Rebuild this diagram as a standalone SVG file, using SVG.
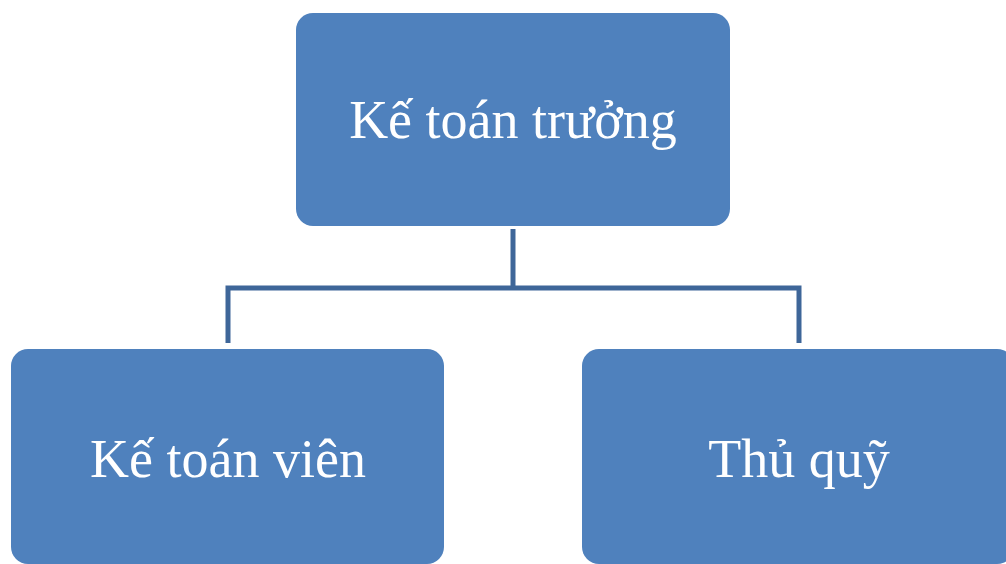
<svg xmlns="http://www.w3.org/2000/svg" width="1006" height="564" viewBox="0 0 1006 564">
<style>
.box{fill:#4f81bd;}
.lbl{font-family:"Liberation Serif","Times New Roman",serif;font-size:54px;fill:#ffffff;text-anchor:middle;}
.con{fill:none;stroke:#3e6699;stroke-width:5;stroke-linejoin:miter;}
</style>
<rect width="1006" height="564" fill="#ffffff"/>
<g id="connectors">
<path class="con" d="M513 229 V288"/>
<path class="con" d="M228 343 V288 H799 V343"/>
</g>
<g id="ke-toan-truong">
<rect class="box" x="296" y="13" width="434" height="213" rx="17"/>
<text class="lbl" x="513" y="138">Kế toán trưởng</text>
</g>
<g id="ke-toan-vien">
<rect class="box" x="11" y="349" width="433" height="215" rx="17"/>
<text class="lbl" x="228" y="477">Kế toán viên</text>
</g>
<g id="thu-quy">
<rect class="box" x="582" y="349" width="432" height="215" rx="17"/>
<text class="lbl" x="799" y="477">Thủ quỹ</text>
</g>
</svg>
